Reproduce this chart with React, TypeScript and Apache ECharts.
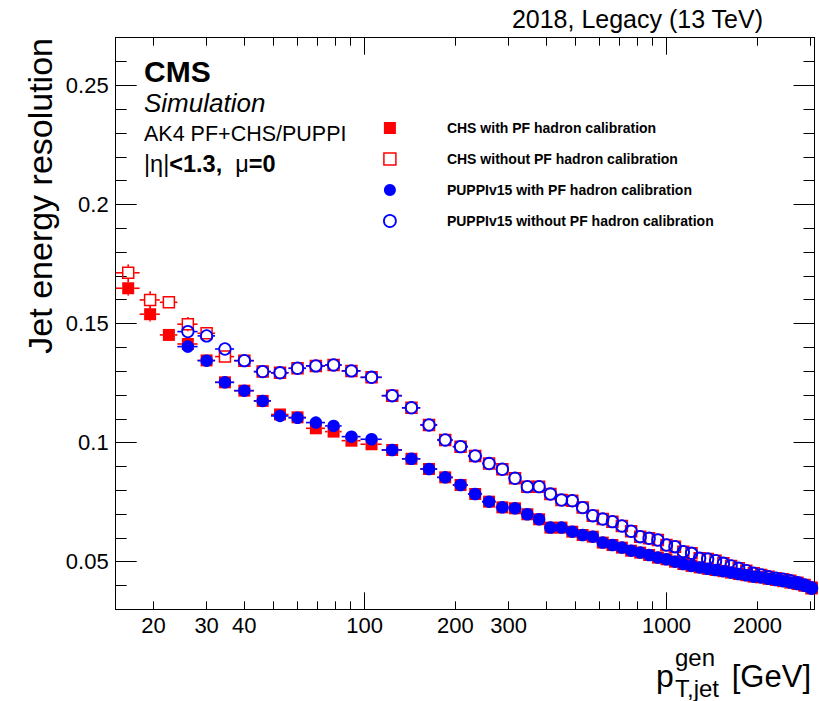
import React, { useEffect, useRef } from "react";
import * as echarts from "echarts";

// Standard jet pT binning (GeV); markers sit at bin centres, horizontal bars span the bin
const binEdges = [
  15, 18, 21, 24, 28, 32, 37, 43, 49, 56, 64, 74, 84, 97, 114, 133, 153, 174, 196, 220,
  245, 272, 300, 330, 362, 395, 430, 468, 507, 548, 592, 638, 686, 737, 790, 846, 905,
  967, 1032, 1101, 1172, 1248, 1327, 1410, 1497, 1588, 1684, 1784, 1890, 2000, 2116,
  2238, 2366, 2500, 2640, 2787, 2941, 3103,
];

// Jet energy resolution per bin
const chsWith = [
  0.1648, 0.1539, 0.1452, 0.1414, 0.1345, 0.1253, 0.1218, 0.1175, 0.1118, 0.1106,
  0.106, 0.1046, 0.1008, 0.0993, 0.0969, 0.0932, 0.0889, 0.0854, 0.0822, 0.0784,
  0.0752, 0.0728, 0.0724, 0.0699, 0.0678, 0.0643, 0.0643, 0.0626, 0.0612, 0.0605,
  0.058, 0.057, 0.0559, 0.0546, 0.0538, 0.0528, 0.0517, 0.051, 0.05, 0.049, 0.0482,
  0.0476, 0.047, 0.0465, 0.046, 0.0454, 0.0448, 0.0443, 0.0437, 0.0434, 0.0428,
  0.0423, 0.0418, 0.0412, 0.0406, 0.0399, 0.0392,
];
const chsWithout = [
  0.1713, 0.1599, 0.1589, 0.1497, 0.1459, 0.1361, 0.1344, 0.1298, 0.1293, 0.1312,
  0.1322, 0.1326, 0.1301, 0.1274, 0.1197, 0.1146, 0.1074, 0.1011, 0.0983, 0.0944,
  0.0912, 0.0888, 0.085, 0.0815, 0.0815, 0.0784, 0.0759, 0.0756, 0.0727, 0.0693,
  0.0679, 0.0668, 0.065, 0.0628, 0.0605, 0.0598, 0.0591, 0.057, 0.0563, 0.0542,
  0.0535, 0.0514, 0.0511, 0.0504, 0.0493, 0.0482, 0.0472, 0.0462, 0.0451, 0.0444,
  0.0437, 0.043, 0.0426, 0.042, 0.0412, 0.0402, 0.0388,
];
// PUPPI curves start at the 24-28 GeV bin
const puppiFirstBin = 3;
const puppiWith = [
  0.1403, 0.1344, 0.1253, 0.1218, 0.1175, 0.1112, 0.1104, 0.1084, 0.107, 0.1025,
  0.1014, 0.0969, 0.0932, 0.0889, 0.0854, 0.0822, 0.0784, 0.0752, 0.0728, 0.0724,
  0.0699, 0.0678, 0.0643, 0.0643, 0.0626, 0.0612, 0.0605, 0.058, 0.057, 0.0559,
  0.0546, 0.0538, 0.0528, 0.0517, 0.051, 0.05, 0.049, 0.0482, 0.0476, 0.047, 0.0465,
  0.046, 0.0454, 0.0448, 0.0443, 0.0437, 0.0434, 0.0428, 0.0423, 0.0418, 0.0412,
  0.0406, 0.0399, 0.0392,
];
const puppiWithout = [
  0.1466, 0.1448, 0.1393, 0.1344, 0.1298, 0.1293, 0.1312, 0.1322, 0.1326, 0.1301,
  0.1274, 0.1197, 0.1146, 0.1074, 0.1011, 0.0983, 0.0944, 0.0912, 0.0888, 0.085,
  0.0815, 0.0815, 0.0784, 0.0759, 0.0756, 0.0727, 0.0693, 0.0679, 0.0668, 0.065,
  0.0628, 0.0605, 0.0598, 0.0591, 0.057, 0.0563, 0.0542, 0.0535, 0.0514, 0.0511,
  0.0504, 0.0493, 0.0482, 0.0472, 0.0462, 0.0451, 0.0444, 0.0437, 0.043, 0.0426,
  0.042, 0.0412, 0.0402, 0.0388,
];

// Statistical uncertainties of the lowest bins (higher bins stay inside the markers)
const chsWithErr = [0.0031, 0.0031, 0.0022, 0.0024, 0.002, 0.0018];
const chsWithoutErr = [0.0035, 0.0036, 0.0024, 0.003, 0.0025, 0.002];
const puppiWithErr = [0.0027, 0.0022, 0.0018];
const puppiWithoutErr = [0.0027, 0.0022, 0.002];

// Axis ticks
const xLabelValues = [20, 30, 40, 100, 200, 300, 1000, 2000];
const xMajorTicks = [100, 1000];
const xMinorTicks = [20, 30, 40, 50, 60, 70, 80, 90, 200, 300, 400, 500, 600, 700, 800, 900, 2000, 3000];
const yMajorTicks = [0.05, 0.1, 0.15, 0.2, 0.25];

const seriesNames = [
  "CHS with PF hadron calibration",
  "CHS without PF hadron calibration",
  "PUPPIv15 with PF hadron calibration",
  "PUPPIv15 without PF hadron calibration",
];

const RED = "#ff0000";
const BLUE = "#0000ff";
const FONT = "'Liberation Sans', Arial, Helvetica, sans-serif";
const MARKER = 12;

const centers = binEdges.slice(0, -1).map((lo, i) => (lo + binEdges[i + 1]) / 2);

const toPoints = (values: number[], first: number) =>
  values.map((v, i) => [centers[first + i], v]);

const toBars = (values: number[], first: number, errs: number[]) =>
  values.map((v, i) => {
    const b = first + i;
    return [binEdges[b], binEdges[b + 1], centers[b], v, errs[i] ?? 0];
  });

// Error bars are drawn up to the marker edge, leaving the marker itself clear
const errorBars = (name: string, data: number[][], color: string) => ({
  type: "custom",
  name,
  data,
  encode: { x: 2, y: 3 },
  silent: true,
  renderItem: (params: any, api: any) => {
    const y = api.value(3);
    const half = MARKER / 2;
    const lo = api.coord([api.value(0), y]);
    const hi = api.coord([api.value(1), y]);
    const c = api.coord([api.value(2), y]);
    const cs = params.coordSys;
    const xl = Math.max(lo[0], cs.x);
    const xr = Math.min(hi[0], cs.x + cs.width);
    const style = { stroke: color, lineWidth: 1.6 };
    const children: any[] = [];
    if (c[0] - half > xl) children.push({ type: "line", shape: { x1: xl, y1: c[1], x2: c[0] - half, y2: c[1] }, style });
    if (xr > c[0] + half) children.push({ type: "line", shape: { x1: c[0] + half, y1: c[1], x2: xr, y2: c[1] }, style });
    const e = api.value(4);
    if (e > 0) {
      const t = api.coord([api.value(2), y + e]);
      const b = api.coord([api.value(2), y - e]);
      if (c[1] - half > t[1]) children.push({ type: "line", shape: { x1: c[0], y1: t[1], x2: c[0], y2: c[1] - half }, style });
      if (b[1] > c[1] + half) children.push({ type: "line", shape: { x1: c[0], y1: c[1] + half, x2: c[0], y2: b[1] }, style });
    }
    return { type: "group", children };
  },
});

const frameLine = { show: true, onZero: false, lineStyle: { color: "#000", width: 1 } };

const xAxisBase = (position: string, length: number, ticks: number[], withLabels: boolean) => ({
  type: "log",
  logBase: 10,
  min: 15,
  max: 3090,
  position,
  axisLine: frameLine,
  splitLine: { show: false },
  axisTick: { show: true, inside: true, length, customValues: ticks, lineStyle: { color: "#000", width: 1 } },
  axisLabel: withLabels
    ? { show: true, customValues: xLabelValues, formatter: (v: number) => String(Math.round(v)), fontSize: 22, color: "#000", fontFamily: FONT, margin: 5 }
    : { show: false },
});

const yAxisBase = (position: string, tick: any, withLabels: boolean) => ({
  type: "value",
  min: 0.03,
  max: 0.27,
  position,
  axisLine: frameLine,
  splitLine: { show: false },
  ...(tick.interval ? { interval: tick.interval } : {}),
  axisTick: { show: true, inside: true, length: tick.length, ...(tick.values ? { customValues: tick.values } : {}), lineStyle: { color: "#000", width: 1 } },
  axisLabel: withLabels
    ? { show: true, customValues: yMajorTicks, formatter: (v: number) => String(parseFloat(v.toFixed(2))), fontSize: 22, color: "#000", fontFamily: FONT, margin: 7 }
    : { show: false },
});

export default function App() {
  const ref = useRef<HTMLDivElement>(null);

  useEffect(() => {
    if (!ref.current) return;
    const chart = echarts.init(ref.current, undefined, { renderer: "svg" });

    const option: any = {
      animation: false,
      backgroundColor: "#fff",
      grid: { left: 115.7, right: 4.5, top: 37.7, bottom: 91.7, containLabel: false },
      xAxis: [
        xAxisBase("bottom", 17, xMajorTicks, true),
        xAxisBase("bottom", 8, xMinorTicks, false),
        xAxisBase("top", 17, xMajorTicks, false),
        xAxisBase("top", 8, xMinorTicks, false),
      ],
      yAxis: [
        yAxisBase("left", { length: 21, values: yMajorTicks }, true),
        yAxisBase("left", { length: 11, interval: 0.01 }, false),
        yAxisBase("right", { length: 21, values: yMajorTicks }, false),
        yAxisBase("right", { length: 11, interval: 0.01 }, false),
      ],
      legend: {
        orient: "vertical",
        left: 383,
        top: 120,
        padding: 0,
        itemWidth: 12,
        itemHeight: 12,
        itemGap: 15,
        selectedMode: false,
        textStyle: { fontSize: 14, fontWeight: "bold", color: "#000", fontFamily: FONT, lineHeight: 16, padding: [0, 0, 0, 46] },
        data: [
          { name: seriesNames[0], icon: "rect", itemStyle: { color: RED, opacity: 1 } },
          { name: seriesNames[1], icon: "rect", itemStyle: { color: "rgba(0,0,0,0)", borderColor: RED, borderWidth: 1.5, opacity: 1 } },
          { name: seriesNames[2], icon: "circle", itemStyle: { color: BLUE, opacity: 1 } },
          { name: seriesNames[3], icon: "circle", itemStyle: { color: "rgba(0,0,0,0)", borderColor: BLUE, borderWidth: 1.8, opacity: 1 } },
        ],
      },
      series: [
        errorBars("chsWithBars", toBars(chsWith, 0, chsWithErr), RED),
        {
          type: "scatter", name: seriesNames[0], data: toPoints(chsWith, 0), symbol: "rect", symbolSize: MARKER,
          itemStyle: { color: RED, opacity: 1 }, silent: true,
        },
        errorBars("chsWithoutBars", toBars(chsWithout, 0, chsWithoutErr), RED),
        {
          type: "scatter", name: seriesNames[1], data: toPoints(chsWithout, 0), symbol: "rect", symbolSize: 11,
          itemStyle: { color: "rgba(0,0,0,0)", borderColor: RED, borderWidth: 1.5, opacity: 1 }, silent: true,
        },
        errorBars("puppiWithBars", toBars(puppiWith, puppiFirstBin, puppiWithErr), BLUE),
        {
          type: "scatter", name: seriesNames[2], data: toPoints(puppiWith, puppiFirstBin), symbol: "circle", symbolSize: 12.5,
          itemStyle: { color: BLUE, opacity: 1 }, silent: true,
        },
        errorBars("puppiWithoutBars", toBars(puppiWithout, puppiFirstBin, puppiWithoutErr), BLUE),
        {
          type: "scatter", name: seriesNames[3], data: toPoints(puppiWithout, puppiFirstBin), symbol: "circle", symbolSize: 11.5,
          itemStyle: { color: "rgba(0,0,0,0)", borderColor: BLUE, borderWidth: 1.8, opacity: 1 }, silent: true,
        },
      ],
      graphic: [
        { type: "text", x: 763, y: 19.3, style: { text: "2018, Legacy (13 TeV)", font: `25px ${FONT}`, fill: "#000", align: "right", verticalAlign: "middle" } },
        { type: "text", x: 144, y: 71.3, style: { text: "CMS", font: `bold 30px ${FONT}`, fill: "#000", align: "left", verticalAlign: "middle" } },
        { type: "text", x: 144, y: 102.7, style: { text: "Simulation", font: `italic 26px ${FONT}`, fill: "#000", align: "left", verticalAlign: "middle" } },
        { type: "text", x: 144, y: 134.2, style: { text: "AK4 PF+CHS/PUPPI", font: `21.5px ${FONT}`, fill: "#000", align: "left", verticalAlign: "middle" } },
        {
          type: "text", x: 144, y: 163.5,
          style: {
            text: "{n||η|}{b|<1.3,  }{n|μ}{b|=0}",
            align: "left", verticalAlign: "middle", fill: "#000",
            rich: {
              n: { fontSize: 23.5, fontFamily: FONT, fill: "#000" },
              b: { fontSize: 23.5, fontFamily: FONT, fontWeight: "bold", fill: "#000" },
            },
          },
        },
        {
          type: "text", x: 39.9, y: 38, rotation: Math.PI / 2,
          style: { text: "Jet energy resolution", font: `34px ${FONT}`, fill: "#000", align: "right", verticalAlign: "middle" },
        },
        { type: "text", x: 656, y: 675.6, style: { text: "p", font: `32px ${FONT}`, fill: "#000", align: "left", verticalAlign: "middle" } },
        { type: "text", x: 675, y: 657.5, style: { text: "gen", font: `24px ${FONT}`, fill: "#000", align: "left", verticalAlign: "middle" } },
        { type: "text", x: 675, y: 688, style: { text: "T,jet", font: `24px ${FONT}`, fill: "#000", align: "left", verticalAlign: "middle" } },
        { type: "text", x: 811, y: 676, style: { text: "[GeV]", font: `31px ${FONT}`, fill: "#000", align: "right", verticalAlign: "middle" } },
      ],
    };

    chart.setOption(option);
    return () => chart.dispose();
  }, []);

  return <div ref={ref} style={{ position: "absolute", left: 0, top: 0, width: 819, height: 701 }} />;
}
